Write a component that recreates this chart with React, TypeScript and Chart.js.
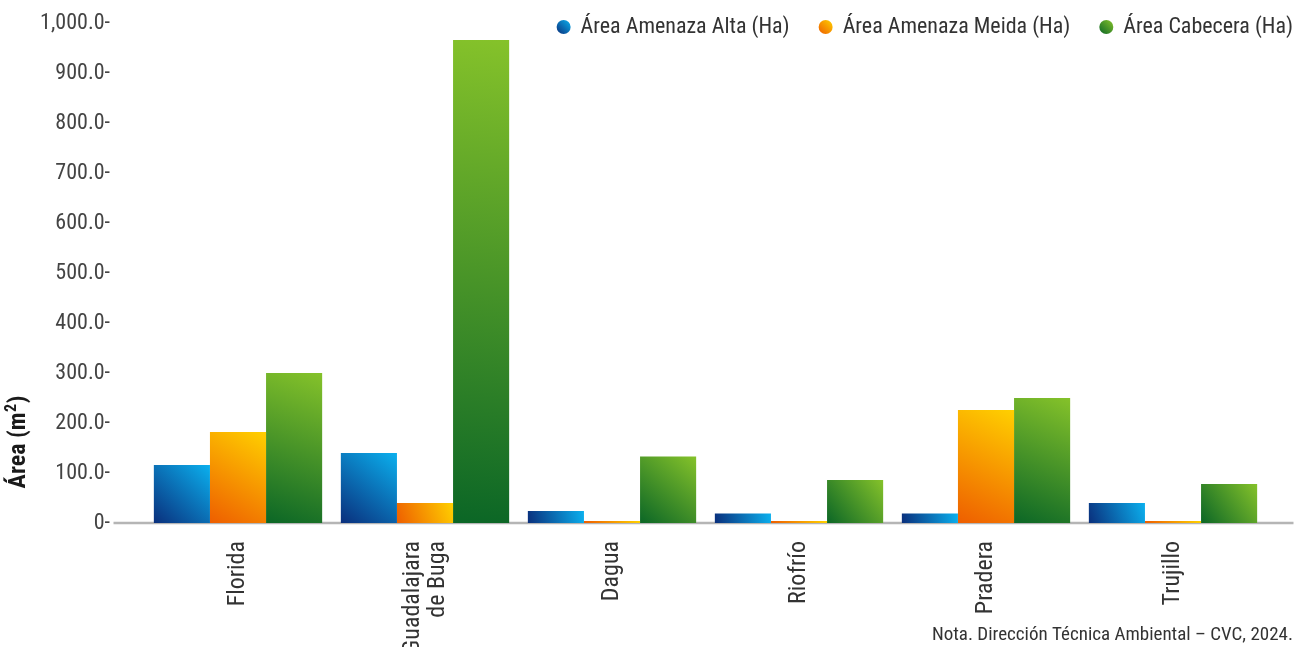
import React, { useEffect, useRef } from 'react';
import { Chart, registerables } from 'chart.js';

Chart.register(...registerables);

const categories: (string | string[])[] = ['Florida', ['Guadalajara', 'de Buga'], 'Dagua', 'Riofrío', 'Pradera', 'Trujillo'];
const seriesNames = ['Área Amenaza Alta (Ha)', 'Área Amenaza Meida (Ha)', 'Área Cabecera (Ha)'];
const amenazaAlta = [116, 140, 24, 19, 19, 40];
const amenazaMedia = [182, 40, 4, 4, 226, 4];
const cabecera = [300, 966, 133, 86, 250, 78];
const yTicks = [0, 100, 200, 300, 400, 500, 600, 700, 800, 900, 1000];
const yTitleMain = 'Área (m';
const yTitleSup = '2';
const yTitleEnd = ')';
const note = 'Nota. Dirección Técnica Ambiental – CVC, 2024.';

const gradients: [string, string][] = [
  ['#0a2f7c', '#0bb0ee'],
  ['#ee5e00', '#ffd000'],
  ['#0b6626', '#85c22a'],
];

const FONT = "'Roboto Condensed', 'Liberation Sans Narrow', 'Arial Narrow', Roboto, sans-serif";

const CAT_PCT = 0.9;

function barGradient(ctx: any) {
  const chart = ctx.chart;
  const stops = gradients[ctx.datasetIndex];
  if (!chart.chartArea || ctx.type !== 'data') return stops[1];
  const xs = chart.scales.x;
  const ys = chart.scales.y;
  const catW = xs.width / categories.length;
  const barW = (catW * CAT_PCT) / 3;
  const cx = xs.getPixelForValue(ctx.dataIndex) + (ctx.datasetIndex - 1) * barW;
  const top = ys.getPixelForValue(ctx.raw);
  const bottom = ys.getPixelForValue(0);
  const g = chart.ctx.createLinearGradient(cx - barW / 2, bottom, cx + barW / 2, Math.min(top, bottom - 1));
  g.addColorStop(0, stops[0]);
  g.addColorStop(1, stops[1]);
  return g;
}

const decorPlugin = {
  id: 'decor',
  beforeDatasetsDraw(chart: any) {
    const { ctx, chartArea, scales } = chart;
    const y0 = scales.y.getPixelForValue(0);
    ctx.save();
    ctx.strokeStyle = '#b5b5b5';
    ctx.lineWidth = 2.5;
    ctx.beginPath();
    ctx.moveTo(chartArea.left - 31, y0);
    ctx.lineTo(chartArea.right + 27, y0);
    ctx.stroke();
    ctx.restore();
  },
  afterDraw(chart: any) {
    const { ctx, scales } = chart;

    // x category labels (rotated, reading upwards, anchored under the axis)
    const y0 = scales.y.getPixelForValue(0);
    ctx.save();
    ctx.font = `24px ${FONT}`;
    ctx.fillStyle = '#333333';
    ctx.textAlign = 'right';
    ctx.textBaseline = 'middle';
    const lineH = 25;
    categories.forEach((lab, i) => {
      const lines = Array.isArray(lab) ? lab : [lab];
      const cx = scales.x.getPixelForValue(i);
      lines.forEach((ln, j) => {
        const off = (j - (lines.length - 1) / 2) * lineH;
        ctx.save();
        ctx.translate(cx + off, y0 + 18);
        ctx.rotate(-Math.PI / 2);
        ctx.fillText(ln, 0, 0);
        ctx.restore();
      });
    });
    ctx.restore();

    // y title
    ctx.save();
    ctx.translate(19, 442);
    ctx.rotate(-Math.PI / 2);
    ctx.fillStyle = '#1a1a1a';
    ctx.textBaseline = 'middle';
    ctx.textAlign = 'left';
    const fMain = `bold 24px ${FONT}`;
    const fSup = `bold 16px ${FONT}`;
    ctx.font = fMain;
    const w1 = ctx.measureText(yTitleMain).width;
    const w3 = ctx.measureText(yTitleEnd).width;
    ctx.font = fSup;
    const w2 = ctx.measureText(yTitleSup).width;
    const total = w1 + w2 + w3 + 1;
    let tx = -total / 2;
    ctx.font = fMain;
    ctx.fillText(yTitleMain, tx, 0);
    tx += w1 + 0.5;
    ctx.font = fSup;
    ctx.fillText(yTitleSup, tx, -7);
    tx += w2 + 0.5;
    ctx.font = fMain;
    ctx.fillText(yTitleEnd, tx, 0);
    ctx.restore();

    // legend
    ctx.save();
    ctx.font = `22px ${FONT}`;
    ctx.textBaseline = 'middle';
    ctx.textAlign = 'left';
    const ly = 27;
    let right = 1293;
    const pos: { dot: number; text: number }[] = [];
    for (let i = seriesNames.length - 1; i >= 0; i--) {
      const w = ctx.measureText(seriesNames[i]).width;
      const tx2 = right - w;
      const dot = tx2 - 17;
      pos[i] = { dot, text: tx2 };
      right = dot - 36;
    }
    for (let i = 0; i < seriesNames.length; i++) {
      const { dot, text } = pos[i];
      const g = ctx.createLinearGradient(dot - 7, ly + 7, dot + 7, ly - 7);
      g.addColorStop(0, gradients[i][0]);
      g.addColorStop(1, gradients[i][1]);
      ctx.fillStyle = g;
      ctx.beginPath();
      ctx.arc(dot, ly, 7, 0, Math.PI * 2);
      ctx.fill();
      ctx.fillStyle = '#333333';
      ctx.fillText(seriesNames[i], text, ly);
    }
    ctx.restore();

    // note
    ctx.save();
    ctx.font = `19px ${FONT}`;
    ctx.fillStyle = '#333333';
    ctx.textAlign = 'right';
    ctx.textBaseline = 'middle';
    ctx.fillText(note, 1293, 635);
    ctx.restore();
  },
};

function fmt(v: number) {
  if (v === 0) return '0-';
  return v.toLocaleString('en-US', { minimumFractionDigits: 1, maximumFractionDigits: 1 }) + '-';
}

export default function App() {
  const ref = useRef<HTMLCanvasElement | null>(null);
  useEffect(() => {
    if (!ref.current) return;
    const data = [amenazaAlta, amenazaMedia, cabecera];
    const chart = new Chart(ref.current, {
      type: 'bar',
      data: {
        labels: categories,
        datasets: seriesNames.map((name, i) => ({
          label: name,
          data: data[i],
          backgroundColor: barGradient,
          borderWidth: 0,
          categoryPercentage: CAT_PCT,
          barPercentage: 1,
        })),
      },
      options: {
        responsive: false,
        animation: false,
        layout: { padding: { left: 0, right: 40.5, top: 23, bottom: 0 } },
        plugins: {
          legend: { display: false },
          tooltip: { enabled: false },
        },
        scales: {
          x: {
            grid: { display: false, drawTicks: false },
            border: { display: false },
            ticks: { display: false },
            afterFit(scale: any) {
              scale.height = 124;
            },
          },
          y: {
            min: 0,
            max: 1000,
            afterBuildTicks(scale: any) {
              scale.ticks = yTicks.map((v) => ({ value: v }));
            },
            grid: { display: false, drawTicks: true, tickLength: 34.5 },
            border: { display: false },
            ticks: {
              padding: 0,
              color: '#444444',
              font: { family: FONT, size: 22 },
              callback: (v: any) => fmt(Number(v)),
            },
            afterFit(scale: any) {
              scale.width = 144.5;
            },
          },
        },
      },
      plugins: [decorPlugin],
    });
    return () => chart.destroy();
  }, []);
  return (
    <div style={{ position: 'fixed', left: 0, top: 0, width: 1307, height: 647, background: '#fff' }}>
      <canvas ref={ref} width={1307} height={647} style={{ display: 'block', width: 1307, height: 647 }} />
    </div>
  );
}
